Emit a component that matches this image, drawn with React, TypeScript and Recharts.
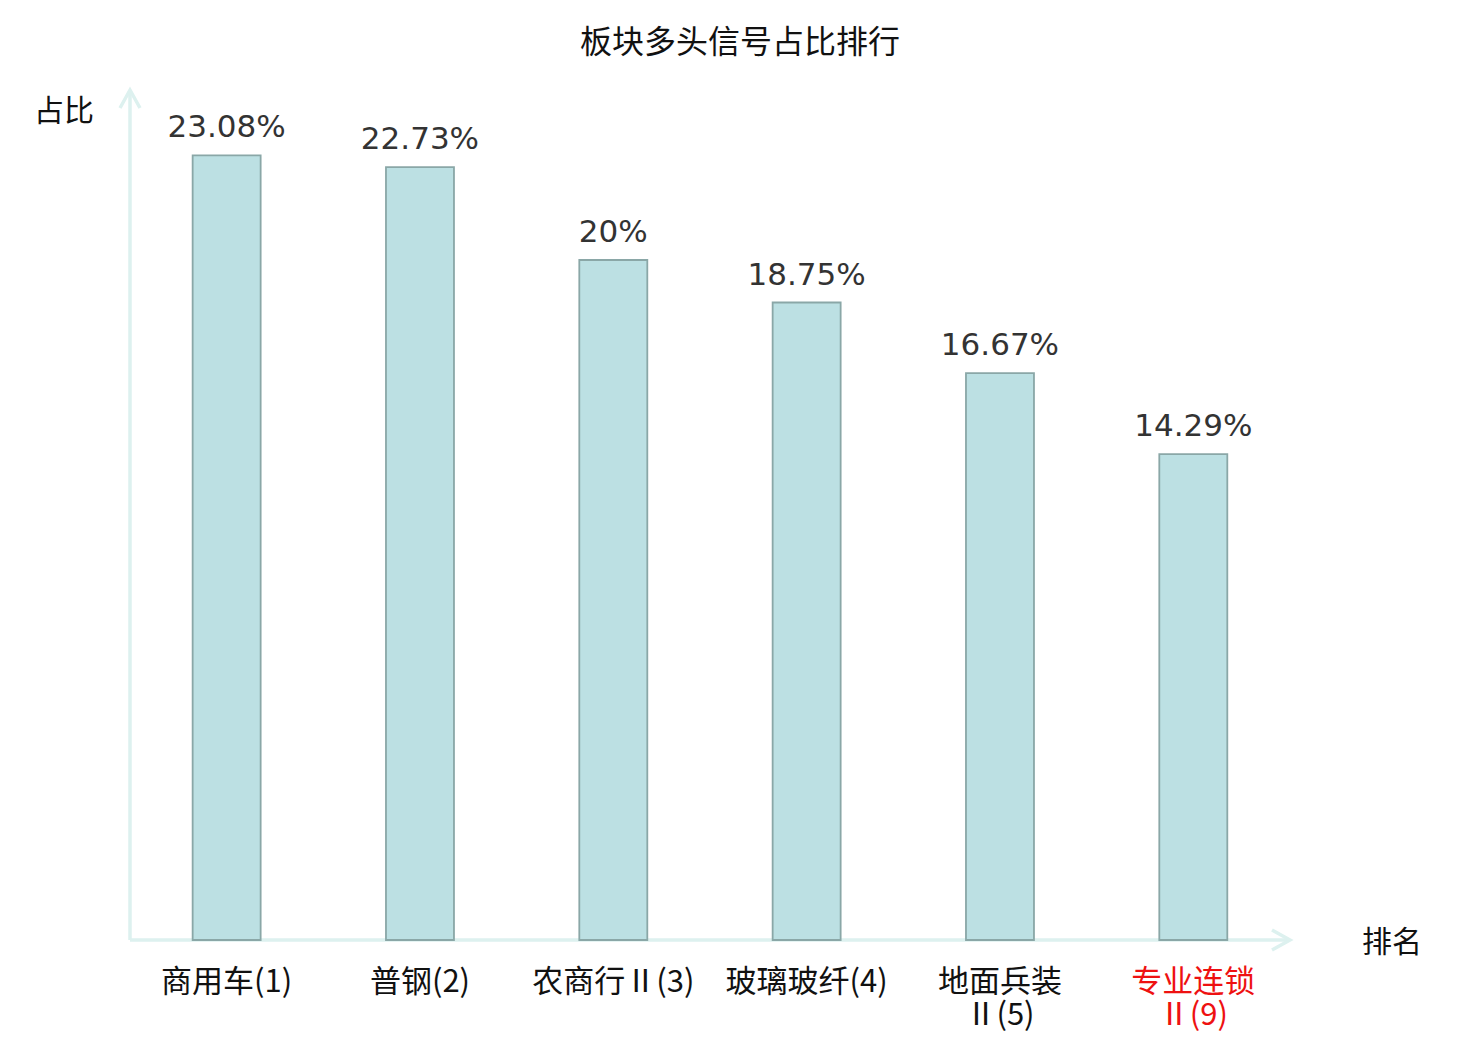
import React from 'react';
import { BarChart, Bar, XAxis, YAxis, LabelList, Customized, usePlotArea } from 'recharts';

const categories = ['商用车(1)', '普钢(2)', '农商行Ⅱ(3)', '玻璃玻纤(4)', '地面兵装\nⅡ(5)', '专业连锁\nⅡ(9)'];
const shares = [23.08, 22.73, 20, 18.75, 16.67, 14.29];
const shareLabels = ['23.08%', '22.73%', '20%', '18.75%', '16.67%', '14.29%'];
const highlighted = ['专业连锁\nⅡ(9)'];
const chartTitle = '板块多头信号占比排行';
const yAxisTitle = '占比';
const xAxisTitle = '排名';

const data = categories.map((c, i) => ({ name: c, value: shares[i], label: shareLabels[i] }));

const CJK = '"Noto Sans CJK SC", "Noto Sans", sans-serif';
const LATIN = '"DejaVu Sans", sans-serif';

const Tick = (props: any) => {
  const { x, y, payload } = props;
  const lines = String(payload.value).split('\n');
  const color = highlighted.includes(payload.value) ? '#EE1111' : '#111111';
  return (
    <g>
      {lines.map((l, i) => (
        <text key={i} x={x} y={y + 44 + i * 33} textAnchor="middle" fontFamily={CJK} fontSize={31} fill={color}>
          {l}
        </text>
      ))}
    </g>
  );
};

const ValueLabel = (props: any) => {
  const { x, y, width, value } = props;
  return (
    <text x={x + width / 2} y={y - 18} textAnchor="middle" fontFamily={LATIN} fontSize={31} fill="#333333">
      {value}
    </text>
  );
};

const Axes = () => {
  const area = usePlotArea();
  if (!area) return null;
  const { x, y, width, height } = area;
  const x0 = x;
  const y0 = y + height;
  const stroke = '#DDF1EF';
  return (
    <g>
      <text x={740} y={53} textAnchor="middle" fontFamily={CJK} fontSize={32} fill="#111111">
        {chartTitle}
      </text>
      <line x1={x0} y1={y0} x2={x0 + width} y2={y0} stroke={stroke} strokeWidth={3.5} />
      <polyline points={`${x0 + width - 18},${y0 - 10} ${x0 + width},${y0} ${x0 + width - 18},${y0 + 10}`} fill="none" stroke={stroke} strokeWidth={3.5} />
      <line x1={x0} y1={y0} x2={x0} y2={y} stroke={stroke} strokeWidth={3.5} />
      <polyline points={`${x0 - 10},${y + 18} ${x0},${y} ${x0 + 10},${y + 18}`} fill="none" stroke={stroke} strokeWidth={3.5} />
      <text x={x0 - 66} y={y + 31} fontFamily={CJK} fontSize={30} fill="#111111" textAnchor="middle">{yAxisTitle}</text>
      <text x={x0 + width + 102} y={y0 + 12} fontFamily={CJK} fontSize={30} fill="#111111" textAnchor="middle">{xAxisTitle}</text>
    </g>
  );
};

export default function App() {
  return (
    <div style={{ position: 'absolute', left: 0, top: 0, width: 1480, height: 1040, background: '#fff' }}>
      <BarChart
        width={1480}
        height={1040}
        data={data}
        margin={{ top: 90, right: 190, left: 130, bottom: 0 }}
        barCategoryGap="32.4%"
      >
        <XAxis dataKey="name" height={100} axisLine={false} tickLine={false} tick={<Tick />} interval={0} />
        <YAxis hide domain={[0, 25]} />
        <Bar dataKey="value" fill="#BCE0E3" stroke="#8AA7A7" strokeWidth={1.8} isAnimationActive={false}>
          <LabelList dataKey="label" content={<ValueLabel />} />
        </Bar>
        <Customized component={<Axes />} />
      </BarChart>
    </div>
  );
}
